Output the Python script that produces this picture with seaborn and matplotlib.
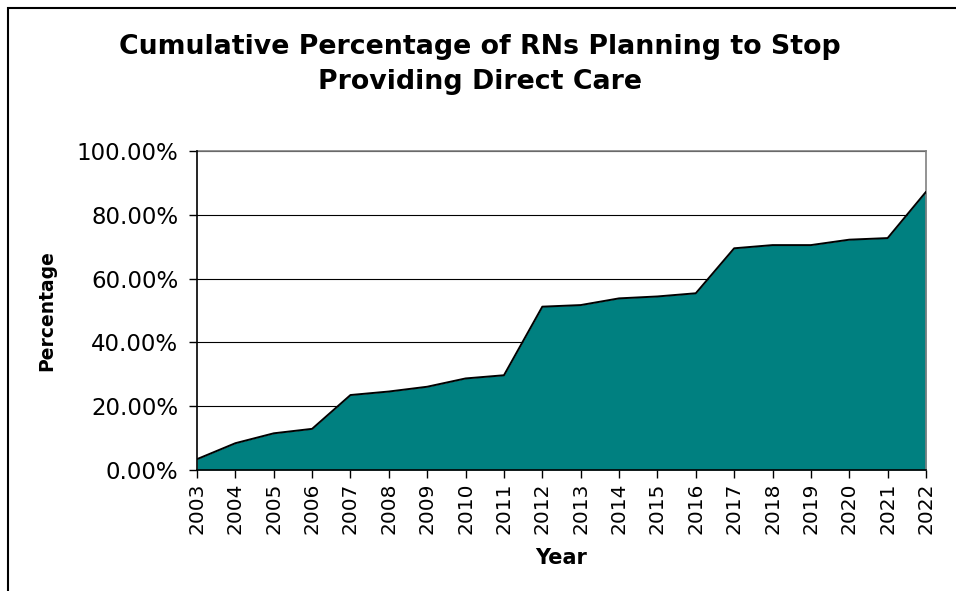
import matplotlib
matplotlib.use("Agg")
import matplotlib.pyplot as plt
from matplotlib.patches import Rectangle
from matplotlib.ticker import FuncFormatter, MultipleLocator
import numpy as np
import pandas as pd
import seaborn as sns

# Cumulative share of RNs planning to stop providing direct care, by year
years = [2003, 2004, 2005, 2006, 2007, 2008, 2009, 2010, 2011, 2012,
         2013, 2014, 2015, 2016, 2017, 2018, 2019, 2020, 2021, 2022]
percentages = [3.4, 8.4, 11.5, 12.9, 23.5, 24.6, 26.1, 28.7, 29.7, 51.2,
               51.7, 53.8, 54.4, 55.4, 69.5, 70.5, 70.5, 72.2, 72.7, 87.2]
year_labels = [str(y) for y in years]

title = "Cumulative Percentage of RNs Planning to Stop\nProviding Direct Care"
x_label = "Year"
y_label = "Percentage"

df = pd.DataFrame({"pos": np.arange(len(years)), "pct": percentages})

sns.set_theme(style="white")
plt.rcParams["font.family"] = ["DejaVu Sans"]
plt.rcParams["text.color"] = "black"
plt.rcParams["axes.labelcolor"] = "black"

fig = plt.figure(figsize=(9.56, 5.91), dpi=100)
ax = fig.add_axes([197 / 956, 1 - 470 / 591, (926 - 197) / 956, (470 - 151) / 591])

teal = "#008080"
ax.fill_between(df["pos"], df["pct"], 0, color=teal, linewidth=0, zorder=2)
sns.lineplot(data=df, x="pos", y="pct", ax=ax, color="black", linewidth=1.4,
             zorder=3, legend=False)

ax.set_xlim(0, len(years) - 1)
ax.set_ylim(0, 100)
ax.yaxis.set_major_locator(MultipleLocator(20))
ax.yaxis.set_major_formatter(FuncFormatter(lambda v, _: f"{v:.2f}%"))
ax.set_xticks(df["pos"])
ax.set_xticklabels(year_labels, rotation=90)

ax.grid(axis="y", color="black", linewidth=0.8, zorder=1)
ax.grid(axis="x", visible=False)
ax.set_axisbelow(True)

for side in ("left", "bottom"):
    ax.spines[side].set_color("black")
    ax.spines[side].set_linewidth(1.2)
    ax.spines[side].set_zorder(4)
for side in ("top", "right"):
    ax.spines[side].set_color("#808080")
    ax.spines[side].set_linewidth(1.2)

ax.tick_params(axis="y", which="major", direction="out", length=6,
               width=1, color="black", labelsize=16.5, labelcolor="black",
               left=True, pad=7.5)
ax.tick_params(axis="x", which="major", direction="out", length=6,
               width=1, color="black", labelsize=14.5, labelcolor="black",
               bottom=True, pad=3)

ax.set_xlabel(x_label, fontsize=15, fontweight="bold", labelpad=10)
ax.set_ylabel(y_label, fontsize=13.5, fontweight="bold", labelpad=14.5)

fig.text(0.502, 0.891, title, ha="center", va="center", fontsize=19.3,
         fontweight="bold", linespacing=1.45)

# chart-area border (only top and left edges fall inside the canvas)
fig.patches.append(Rectangle((8 / 956, -0.5), 2.0, 1.0 - 8 / 591 + 0.5,
                             transform=fig.transFigure, fill=False,
                             edgecolor="black", linewidth=1.5, zorder=0))

fig.savefig("out.png", dpi=100)
